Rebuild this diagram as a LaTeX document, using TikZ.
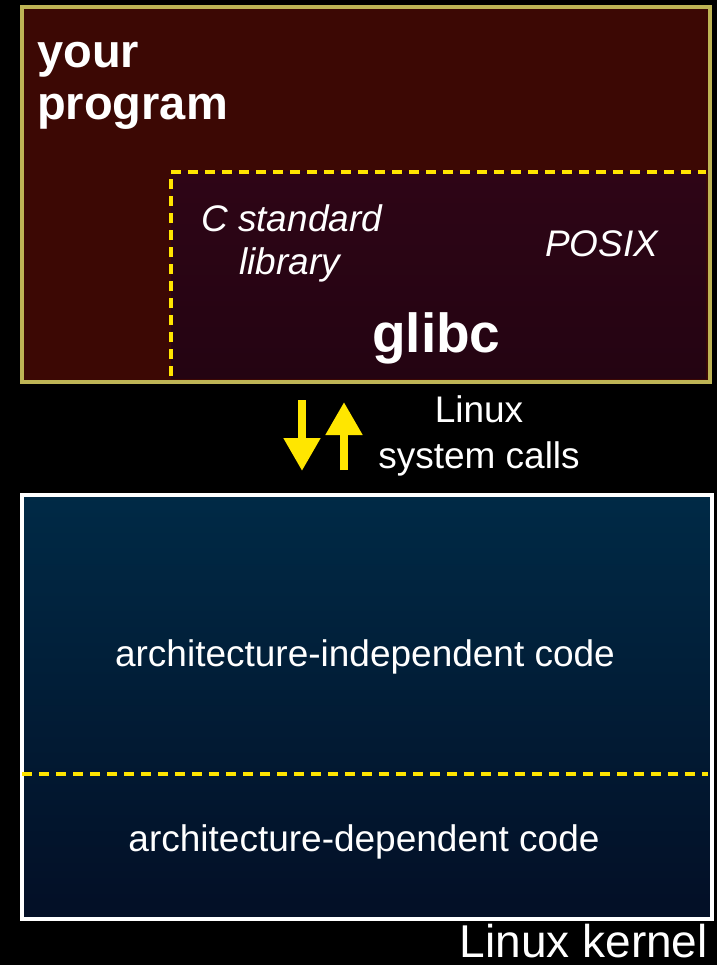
\documentclass[tikz,border=0pt]{standalone}
\usepackage{fontspec}
\setmainfont{Liberation Sans}
\usetikzlibrary{arrows.meta}
\definecolor{bgblack}{RGB}{0,0,0}
\definecolor{progred}{RGB}{60,8,4}
\definecolor{olive}{RGB}{190,180,85}
\definecolor{glibtop}{RGB}{46,5,22}
\definecolor{glibbot}{RGB}{36,4,18}
\definecolor{dashyel}{RGB}{255,228,0}
\definecolor{kertop}{RGB}{0,42,70}
\definecolor{kerbot}{RGB}{3,15,38}
\definecolor{arryel}{RGB}{255,230,0}
\tikzset{
  txt/.style={text=white, inner sep=0pt},
  ydash/.style={draw=dashyel, line width=4pt, dash pattern=on 10pt off 7pt},
  sysarrow/.style={draw=arryel, line width=8pt, -{Triangle[width=35pt,length=33pt]}},
}
\begin{document}
\begin{tikzpicture}[x=1pt,y=-1pt]
\fill[bgblack] (0,0) rectangle (717,965);
\useasboundingbox (0,0) rectangle (717,965);
% your program box
\node[draw=olive, line width=4pt, fill=progred, minimum width=688pt, minimum height=375pt, anchor=north west, inner sep=0pt] (prog) at (20,5) {};
% glibc region
\shade[top color=glibtop, bottom color=glibbot] (171,172) rectangle (706,378);
\coordinate (gtl) at (171,172);
\coordinate (gtr) at (706,172);
\coordinate (gbl) at (171,376);
\draw[ydash] (gbl) -- (gtl) -- (gtr);
\node[txt, font=\bfseries\fontsize{47}{47}\selectfont, anchor=base west] (your) at (37,68) {your};
\node[txt, font=\bfseries\fontsize{47}{47}\selectfont, anchor=base west] (program) at (37,120) {program};
\node[txt, font=\itshape\fontsize{37}{37}\selectfont, anchor=base west] (cstd) at (201,232) {C standard};
\node[txt, font=\itshape\fontsize{37}{37}\selectfont, anchor=base west] (lib) at (239,275) {library};
\node[txt, font=\itshape\fontsize{37}{37}\selectfont, anchor=base west] (posix) at (545,257) {POSIX};
\node[txt, font=\bfseries\fontsize{55}{55}\selectfont, anchor=base west] (glibc) at (372,352) {glibc};
% system calls
\coordinate (dtop) at (302,400);
\coordinate (dbot) at (302,471);
\coordinate (utop) at (344,402);
\coordinate (ubot) at (344,470);
\draw[sysarrow] (dtop) -- (dbot);
\draw[sysarrow] (ubot) -- (utop);
\node[txt, font=\fontsize{37}{37}\selectfont, anchor=base] (linux) at (479,422) {Linux};
\node[txt, font=\fontsize{37}{37}\selectfont, anchor=base] (sys) at (479,468) {system calls};
% kernel box
\shade[top color=kertop, bottom color=kerbot] (20,493) rectangle (710,917);
\node[draw=white, line width=4pt, minimum width=690pt, minimum height=424pt, anchor=north west, inner sep=0pt] (kernel) at (20,493) {};
\coordinate (dl) at (22,774);
\coordinate (dr) at (708,774);
\draw[ydash] (dl) -- (dr);
\node[txt, font=\fontsize{37}{37}\selectfont, anchor=base] (indep) at (365,666) {architecture-independent code};
\node[txt, font=\fontsize{37}{37}\selectfont, anchor=base] (dep) at (364,851) {architecture-dependent code};
\node[txt, font=\fontsize{46}{46}\selectfont, anchor=base east, text depth=0pt] (klabel) at (708,957) {Linux kernel};
\end{tikzpicture}
\end{document}
